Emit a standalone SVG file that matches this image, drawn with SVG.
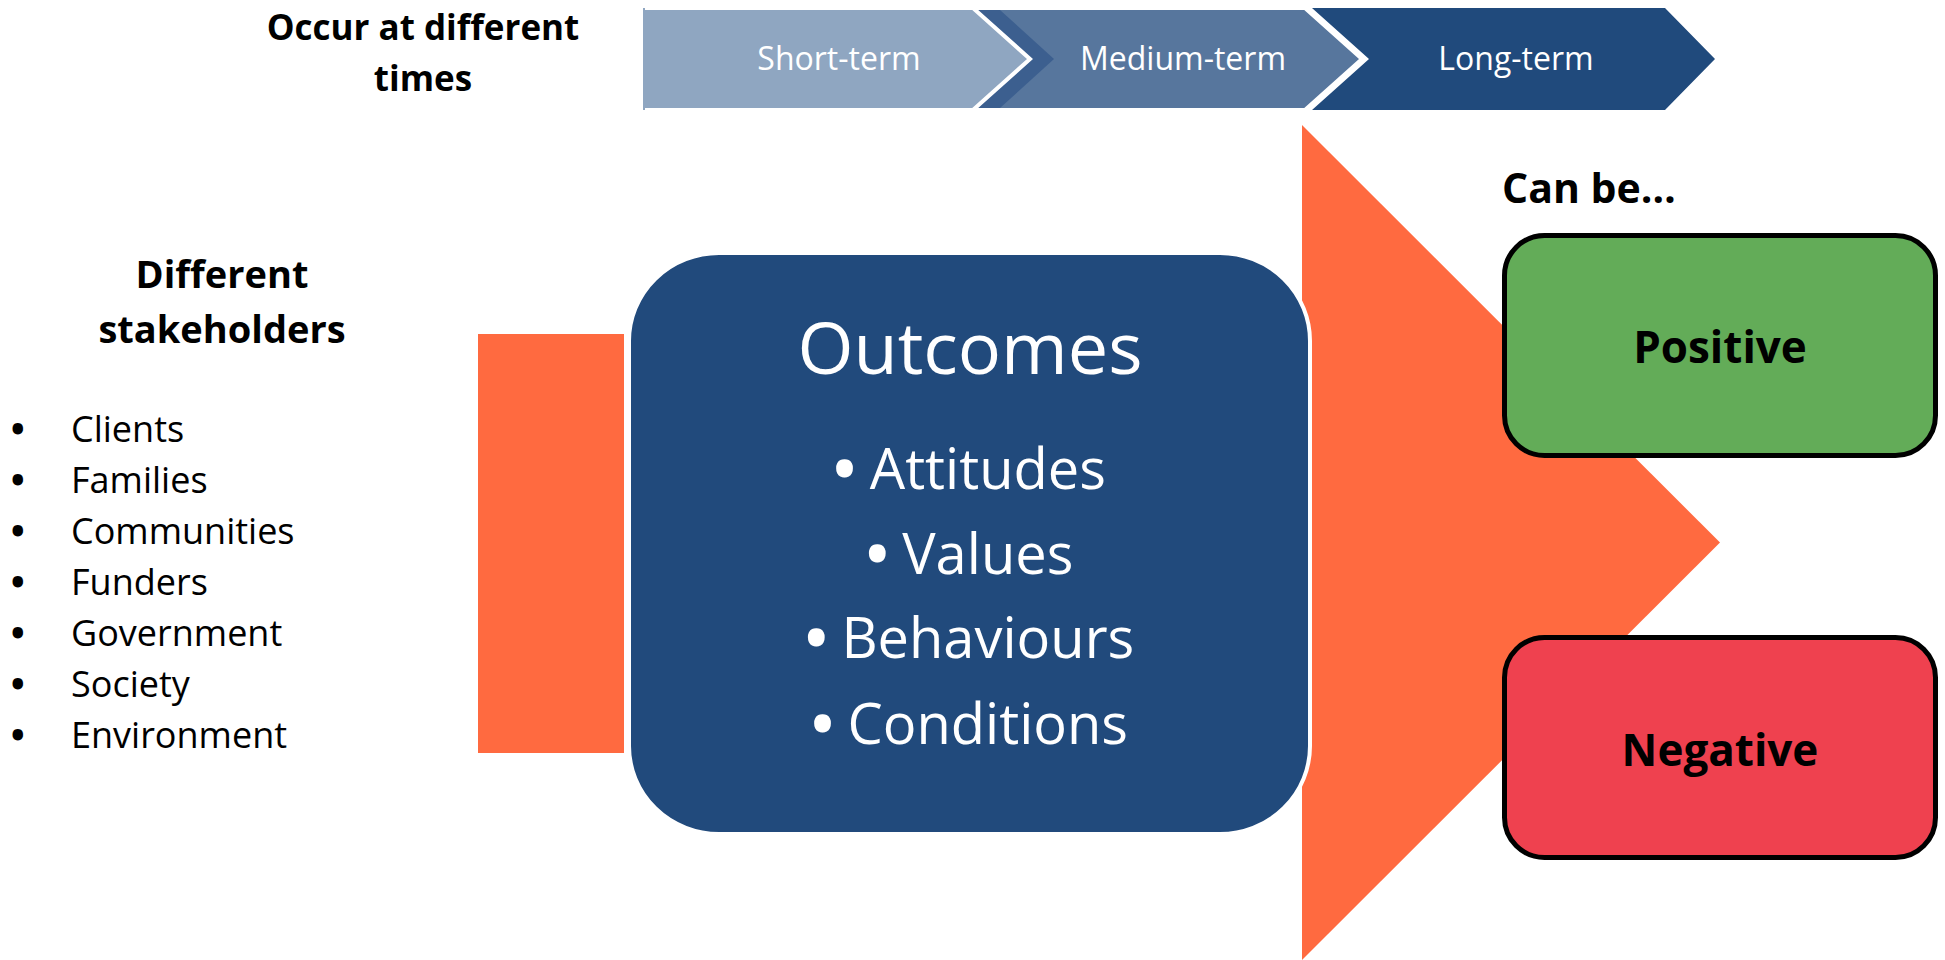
<svg xmlns="http://www.w3.org/2000/svg" width="1945" height="960" viewBox="0 0 1945 960">
<style>
  .bold { font-family: "Open Sans", "Liberation Sans", sans-serif; font-weight: 700; fill: #000; }
  .chev { font-family: "Open Sans", "Liberation Sans", sans-serif; font-size: 32px; fill: #fff; text-anchor: middle; }
  .out { font-family: "Open Sans", "Liberation Sans", sans-serif; fill: #fff; text-anchor: middle; }
  .list { font-family: "Open Sans", "Liberation Sans", sans-serif; font-size: 36px; fill: #000; }
  .lb { stroke: #000; stroke-width: 3; }
  .ob { stroke: #fff; stroke-width: 5; }
  .orange { fill: #FF6A40; }
  .result { stroke: #000; stroke-width: 5; }
</style>
<rect width="1945" height="960" fill="#fff"/>

<g id="timeline">
  <polygon points="1312,8 1665,8 1715,59 1665,110 1312,110 1369,59" fill="#204A7C"/>
  <polygon points="980,8 1305,8 1362,59 1305,110 980,110 1037,59" fill="#57769D" stroke="#fff" stroke-width="4" stroke-linejoin="miter"/>
  <polygon points="973,10 1000,10 1054,59 1000,108 973,108" fill="#3C5F8F"/>
  <polygon points="643,8 973,8 1030,59 973,110 643,110" fill="#8FA6C1" stroke="#fff" stroke-width="4"/>
  <rect x="643" y="8" width="2" height="102" fill="#8FA6C1"/>
  <text class="chev" x="839" y="70">Short-term</text>
  <text class="chev" x="1183" y="70">Medium-term</text>
  <text class="chev" x="1516" y="70">Long-term</text>
</g>

<g id="title-times">
  <text class="bold" x="423" y="40" font-size="35" text-anchor="middle">Occur at different</text>
  <text class="bold" x="423" y="91" font-size="35" text-anchor="middle">times</text>
</g>

<g id="stakeholders">
  <text class="bold" x="222" y="288" font-size="38" text-anchor="middle">Different</text>
  <text class="bold" x="222" y="343" font-size="38" text-anchor="middle">stakeholders</text>
  <g class="list">
    <text x="11" y="442"><tspan class="lb">•</tspan><tspan x="71">Clients</tspan></text>
    <text x="11" y="493"><tspan class="lb">•</tspan><tspan x="71">Families</tspan></text>
    <text x="11" y="544"><tspan class="lb">•</tspan><tspan x="71">Communities</tspan></text>
    <text x="11" y="595"><tspan class="lb">•</tspan><tspan x="71">Funders</tspan></text>
    <text x="11" y="646"><tspan class="lb">•</tspan><tspan x="71">Government</tspan></text>
    <text x="11" y="697"><tspan class="lb">•</tspan><tspan x="71">Society</tspan></text>
    <text x="11" y="748"><tspan class="lb">•</tspan><tspan x="71">Environment</tspan></text>
  </g>
</g>

<g id="input-bar">
  <rect class="orange" x="478" y="334" width="146" height="419"/>
</g>

<g id="output-arrow">
  <polygon class="orange" points="1302,125 1720,542.5 1302,960"/>
</g>

<g id="outcomes">
  <rect x="629" y="253" width="681" height="581" rx="90" ry="88" fill="#214A7C" stroke="#fff" stroke-width="4"/>
  <text class="out" x="970" y="374" font-size="72">Outcomes</text>
  <text class="out" x="970" y="489" font-size="56"><tspan class="ob">•</tspan> Attitudes</text>
  <text class="out" x="970" y="574" font-size="56"><tspan class="ob">•</tspan> Values</text>
  <text class="out" x="970" y="658" font-size="56"><tspan class="ob">•</tspan> Behaviours</text>
  <text class="out" x="970" y="744" font-size="56"><tspan class="ob">•</tspan> Conditions</text>
</g>

<g id="can-be">
  <text class="bold" x="1502" y="203" font-size="41">Can be…</text>
</g>

<g id="positive">
  <rect class="result" x="1504.5" y="235.5" width="431" height="220" rx="40" fill="#63AC58"/>
  <text class="bold" x="1720" y="363" font-size="44" text-anchor="middle">Positive</text>
</g>

<g id="negative">
  <rect class="result" x="1504.5" y="637.5" width="431" height="220" rx="40" fill="#EF414F"/>
  <text class="bold" x="1720" y="766" font-size="44" text-anchor="middle">Negative</text>
</g>

<g id="connectors"></g>
</svg>
